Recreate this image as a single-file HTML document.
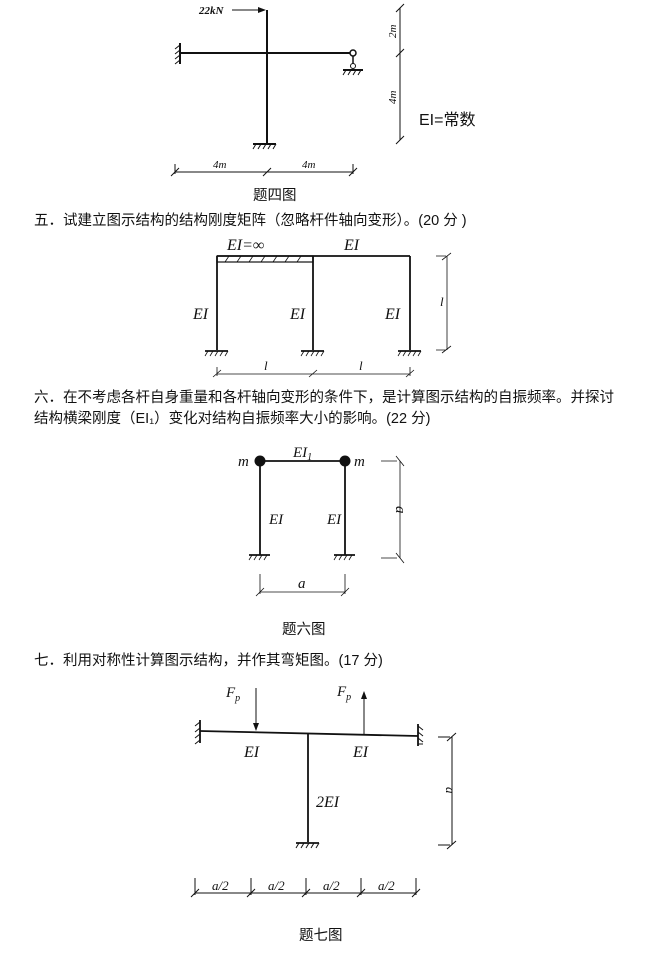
<!DOCTYPE html>
<html><head><meta charset="utf-8"><style>
html,body{margin:0;padding:0;background:#fff;}
svg{display:block}
.cj{font-family:"Liberation Sans","Noto Sans CJK SC",sans-serif;font-size:14.5px;fill:#111}
.it{font-family:"Liberation Serif",serif;font-style:italic;fill:#111}
</style></head><body>
<svg width="664" height="953" viewBox="0 0 664 953" xmlns="http://www.w3.org/2000/svg">
<defs>
<marker id="ar" markerWidth="8" markerHeight="6" refX="7" refY="3" orient="auto"><path d="M0,0 L8,3 L0,6 Z" fill="#111"/></marker>
</defs>
<g stroke="#111" fill="none" stroke-width="2">
<line x1="267" y1="10" x2="267" y2="143"/>
<line x1="180" y1="53" x2="350" y2="53"/>
<line x1="180" y1="43" x2="180" y2="64"/>
<line x1="253" y1="144" x2="276" y2="144"/>
<line x1="343" y1="70" x2="363" y2="70"/>
</g>
<g stroke="#111" stroke-width="1" fill="none">
<path d="M180,45 l-5,4 M180,50 l-5,4 M180,55 l-5,4 M180,60 l-5,4"/>
<path d="M256,144 l-3,5 M261,144 l-3,5 M266,144 l-3,5 M271,144 l-3,5 M276,144 l-3,5"/>
<circle cx="353" cy="53" r="3" fill="#fff" stroke-width="1.5"/>
<path d="M353,56 L353,64" stroke-width="1.5"/><circle cx="353" cy="66" r="2.5" fill="#fff"/>
<path d="M346,70 l-3,5 M351,70 l-3,5 M356,70 l-3,5 M361,70 l-3,5"/>
<line x1="232" y1="10" x2="265" y2="10" marker-end="url(#ar)"/>
<line x1="400" y1="8" x2="400" y2="140"/>
<path d="M396,12 l8,-8 M396,57 l8,-8 M396,144 l8,-8"/>
<line x1="175" y1="172" x2="353" y2="172"/>
<path d="M171,176 l8,-8 M263,176 l8,-8 M349,176 l8,-8 M175,164 v10 M353,164 v10"/>
</g>
<text x="199" y="14" class="it" font-size="11" font-weight="bold">22kN</text>
<text class="it" font-size="11" transform="translate(396,38) rotate(-90)">2m</text>
<text class="it" font-size="11" transform="translate(396,104) rotate(-90)">4m</text>
<text x="419" y="125" font-family="Liberation Sans,'Noto Sans CJK SC',sans-serif" font-size="16" fill="#111">EI=常数</text>
<text x="213" y="168" class="it" font-size="11">4m</text>
<text x="302" y="168" class="it" font-size="11">4m</text>
<text x="253" y="200" class="cj" font-size="13">题四图</text>

<text x="34" y="225" class="cj">五．试建立图示结构的结构刚度矩阵（忽略杆件轴向变形）。(20 分 )</text>

<g stroke="#111" fill="none" stroke-width="1.8">
<line x1="217" y1="256" x2="410" y2="256"/>
<rect x="217" y="256" width="96" height="6" stroke-width="1.2"/>
<line x1="217" y1="256" x2="217" y2="350"/>
<line x1="313" y1="256" x2="313" y2="350"/>
<line x1="410" y1="256" x2="410" y2="350"/>
<line x1="205" y1="351" x2="228" y2="351"/>
<line x1="301" y1="351" x2="324" y2="351"/>
<line x1="398" y1="351" x2="421" y2="351"/>
</g>
<g stroke="#111" stroke-width="0.8" fill="none">
<path d="M225,262 l4,-6 M237,262 l4,-6 M249,262 l4,-6 M261,262 l4,-6 M273,262 l4,-6 M285,262 l4,-6 M297,262 l4,-6"/>
<path d="M208,351 l-3,5 M213,351 l-3,5 M218,351 l-3,5 M223,351 l-3,5 M228,351 l-3,5"/>
<path d="M304,351 l-3,5 M309,351 l-3,5 M314,351 l-3,5 M319,351 l-3,5 M324,351 l-3,5"/>
<path d="M401,351 l-3,5 M406,351 l-3,5 M411,351 l-3,5 M416,351 l-3,5 M421,351 l-3,5"/>
<line x1="447" y1="256" x2="447" y2="350"/>
<path d="M442,260 l9,-7 M442,353 l9,-7 M436,256 h10 M436,350 h10"/>
<line x1="217" y1="374" x2="410" y2="374"/>
<path d="M213,377 l8,-7 M309,377 l8,-7 M406,377 l8,-7 M217,367 v9 M410,367 v9"/>
</g>
<text x="227" y="250" class="it" font-size="16">EI=∞</text>
<text x="344" y="250" class="it" font-size="16">EI</text>
<text x="193" y="319" class="it" font-size="16">EI</text>
<text x="290" y="319" class="it" font-size="16">EI</text>
<text x="385" y="319" class="it" font-size="16">EI</text>
<text x="440" y="306" class="it" font-size="13">l</text>
<text x="264" y="370" class="it" font-size="13">l</text>
<text x="359" y="370" class="it" font-size="13">l</text>

<text x="34" y="402" class="cj">六．在不考虑各杆自身重量和各杆轴向变形的条件下，是计算图示结构的自振频率。并探讨</text>
<text x="34" y="423" class="cj">结构横梁刚度（EI₁）变化对结构自振频率大小的影响。(22 分)</text>

<g stroke="#111" fill="none" stroke-width="1.8">
<line x1="260" y1="461" x2="345" y2="461"/>
<line x1="260" y1="461" x2="260" y2="555"/>
<line x1="345" y1="461" x2="345" y2="555"/>
<line x1="249" y1="555" x2="270" y2="555"/>
<line x1="334" y1="555" x2="355" y2="555"/>
</g>
<circle cx="260" cy="461" r="5.5" fill="#111"/>
<circle cx="345" cy="461" r="5.5" fill="#111"/>
<g stroke="#111" stroke-width="0.8" fill="none">
<path d="M252,555 l-3,5 M257,555 l-3,5 M262,555 l-3,5 M267,555 l-3,5"/>
<path d="M337,555 l-3,5 M342,555 l-3,5 M347,555 l-3,5 M352,555 l-3,5"/>
<line x1="400" y1="461" x2="400" y2="558"/>
<path d="M381,461 h16 M381,558 h16 M396,456 l8,10 M396,553 l8,10"/>
<line x1="260" y1="592" x2="345" y2="592"/>
<path d="M260,574 v20 M345,574 v20 M256,596 l8,-8 M341,596 l8,-8"/>
</g>
<text x="238" y="466" class="it" font-size="15">m</text>
<text x="354" y="466" class="it" font-size="15">m</text>
<text x="293" y="457" class="it" font-size="15">EI<tspan font-size="10" dy="3">1</tspan></text>
<text x="269" y="524" class="it" font-size="15">EI</text>
<text x="327" y="524" class="it" font-size="15">EI</text>
<text class="it" font-size="15" transform="translate(396,506) rotate(90)">a</text>
<text x="298" y="588" class="it" font-size="15">a</text>
<text x="282" y="634" class="cj" font-size="12">题六图</text>

<text x="34" y="665" class="cj">七．利用对称性计算图示结构，并作其弯矩图。(17 分)</text>

<g stroke="#111" fill="none" stroke-width="1.8">
<line x1="200" y1="731" x2="418" y2="736"/>
<line x1="200" y1="720" x2="200" y2="743"/>
<line x1="418" y1="724" x2="418" y2="746"/>
<line x1="308" y1="733" x2="308" y2="842"/>
<line x1="296" y1="843" x2="319" y2="843"/>
</g>
<g stroke="#111" stroke-width="1" fill="none">
<path d="M200,722 l-5,4 M200,728 l-5,4 M200,734 l-5,4 M200,740 l-5,4"/>
<path d="M418,726 l5,4 M418,732 l5,4 M418,738 l5,4 M418,744 l5,-0"/>
<path d="M299,843 l-3,5 M304,843 l-3,5 M309,843 l-3,5 M314,843 l-3,5 M319,843 l-3,5"/>
<line x1="256" y1="688" x2="256" y2="730" marker-end="url(#ar)"/>
<line x1="364" y1="734" x2="364" y2="692" marker-end="url(#ar)"/>
<line x1="452" y1="737" x2="452" y2="845"/>
<path d="M438,737 h12 M438,845 h12 M447,741 l9,-8 M447,849 l9,-8"/>
<line x1="195" y1="893" x2="416" y2="893"/>
<path d="M195,878 v17 M251,878 v17 M306,878 v17 M361,878 v17 M416,878 v17 M191,897 l8,-8 M247,897 l8,-8 M302,897 l8,-8 M357,897 l8,-8 M412,897 l8,-8"/>
</g>
<text x="226" y="697" class="it" font-size="15">F<tspan font-size="10" dy="4">p</tspan></text>
<text x="337" y="696" class="it" font-size="15">F<tspan font-size="10" dy="4">p</tspan></text>
<text x="244" y="757" class="it" font-size="16">EI</text>
<text x="353" y="757" class="it" font-size="16">EI</text>
<text x="316" y="807" class="it" font-size="16">2EI</text>
<text class="it" font-size="13" transform="translate(446,787) rotate(90)">a</text>
<text x="212" y="890" class="it" font-size="13">a/2</text>
<text x="268" y="890" class="it" font-size="13">a/2</text>
<text x="323" y="890" class="it" font-size="13">a/2</text>
<text x="378" y="890" class="it" font-size="13">a/2</text>
<text x="299" y="940" class="cj" font-size="13">题七图</text>
</svg>
</body></html>
